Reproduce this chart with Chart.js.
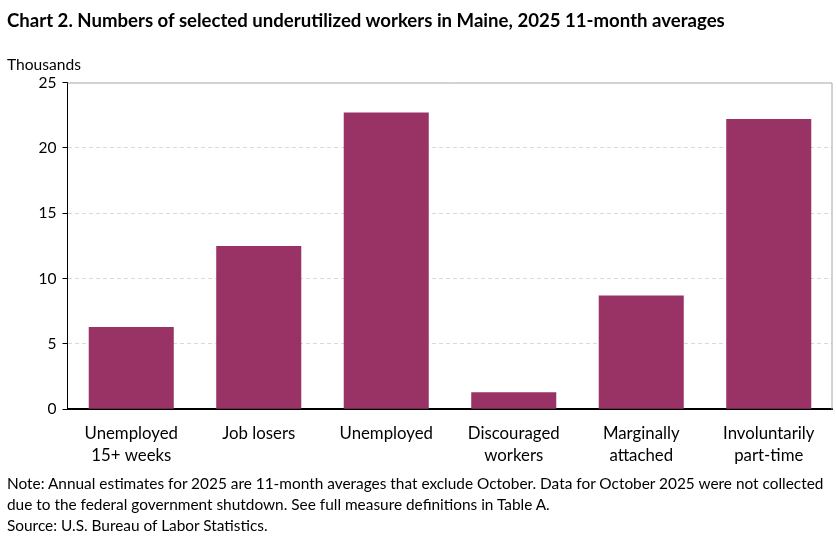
<!DOCTYPE html>
<html>
<head>
<meta charset="utf-8">
<script src="https://cdn.jsdelivr.net/npm/chart.js@4/dist/chart.umd.min.js"></script>
<style>
  html, body { margin: 0; padding: 0; background: #fff; }
  #wrap { position: relative; width: 836px; height: 538px; overflow: hidden; font-family: Lato, "Open Sans", sans-serif; color: #000; }
  #c { position: absolute; left: 0; top: 0; }
  .t { position: absolute; white-space: nowrap; }
  #title { left: 7px; top: 8px; font-weight: bold; font-size: 18.6px; line-height: 24px; }
  #unit { left: 7px; top: 53px; font-size: 15.6px; line-height: 22px; }
  #note { left: 7px; top: 472.5px; font-size: 15.4px; line-height: 21px; }
</style>
</head>
<body>
<div id="wrap">
  <canvas id="c" width="836" height="538"></canvas>
  <div class="t" id="title">Chart 2. Numbers of selected underutilized workers in Maine, 2025 11-month averages</div>
  <div class="t" id="unit">Thousands</div>
  <div class="t" id="note">Note: Annual estimates for 2025 are 11-month averages that exclude October. Data for October 2025 were not collected<br>due to the federal government shutdown. See full measure definitions in Table A.<br>Source: U.S. Bureau of Labor Statistics.</div>
</div>
<script>
const categories = [
  ["Unemployed", "15+ weeks"],
  ["Job losers"],
  ["Unemployed"],
  ["Discouraged", "workers"],
  ["Marginally", "attached"],
  ["Involuntarily", "part-time"]
];
const values = [6.3, 12.5, 22.7, 1.3, 8.7, 22.2];
const yTicks = [0, 5, 10, 15, 20, 25];

const FONT = 'Lato, "Open Sans", sans-serif';

const frame = {
  id: 'frame',
  afterDraw(chart) {
    const a = chart.chartArea, ctx = chart.ctx;
    ctx.save();
    ctx.strokeStyle = '#a6a6a6';
    ctx.lineWidth = 1;
    ctx.beginPath();
    ctx.moveTo(a.left, a.top + 0.5);
    ctx.lineTo(a.right - 0.5, a.top + 0.5);
    ctx.lineTo(a.right - 0.5, a.bottom);
    ctx.stroke();
    ctx.restore();
  }
};

new Chart(document.getElementById('c'), {
  type: 'bar',
  data: {
    labels: categories,
    datasets: [{
      data: values,
      backgroundColor: '#993366',
      borderWidth: 0,
      categoryPercentage: 1,
      barPercentage: 0.667
    }]
  },
  options: {
    responsive: false,
    animation: false,
    devicePixelRatio: 1,
    layout: { padding: { left: 0, right: 3.5, top: 82.5, bottom: 0 } },
    plugins: { legend: { display: false }, tooltip: { enabled: false }, title: { display: false } },
    scales: {
      x: {
        grid: { display: false, drawTicks: false },
        border: { display: true, color: '#000', width: 2 },
        ticks: { color: '#000', font: { family: FONT, size: 16.8, lineHeight: 1.32 }, padding: 13, maxRotation: 0, autoSkip: false },
        afterFit(s) { s.height = 128.7; }
      },
      y: {
        min: 0, max: 25,
        afterBuildTicks(s) { s.ticks = yTicks.map(v => ({ value: v })); },
        grid: {
          color: ctx => (ctx.tick && (ctx.tick.value === 0 || ctx.tick.value === 25)) ? 'rgba(0,0,0,0)' : '#d9d9d9',
          tickColor: '#000',
          tickLength: 5,
          lineWidth: 1
        },
        border: { display: true, color: '#000', width: 1, dash: [4, 3] },
        ticks: { color: '#000', font: { family: FONT, size: 15.5 }, padding: 6 },
        afterFit(s) { s.width = 67.5; }
      }
    }
  },
  plugins: [frame]
});
</script>
</body>
</html>
